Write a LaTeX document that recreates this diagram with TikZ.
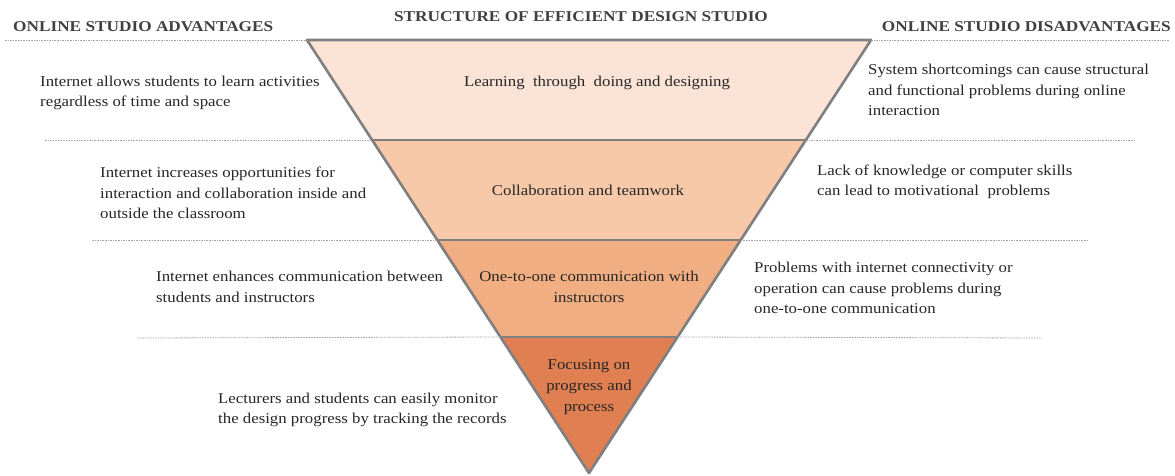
\documentclass[tikz,border=0pt]{standalone}
\usepackage{fontspec}
\setmainfont{Liberation Serif}
\newfontfamily\bodyserif[FakeStretch=1.12]{Liberation Serif}
\newfontfamily\headserif[FakeStretch=1.15]{Liberation Serif}
\usetikzlibrary{calc}
\definecolor{bandA}{HTML}{FBE4D6}
\definecolor{bandB}{HTML}{F7C9A8}
\definecolor{bandC}{HTML}{F1AE82}
\definecolor{bandD}{HTML}{E08052}
\definecolor{edgegray}{HTML}{7F7F7F}
\definecolor{rulegray}{HTML}{A6A6A6}
\definecolor{headgray}{HTML}{404040}
\definecolor{bodyink}{HTML}{262626}
\begin{document}
\begin{tikzpicture}[x=1pt,y=-1pt,
  head/.style={font=\headserif\fontsize{15}{17}\selectfont\bfseries, text=headgray, inner sep=0pt},
  body/.style={font=\bodyserif\fontsize{15}{20.5}\selectfont, text=bodyink, align=left, inner sep=0pt, anchor=west},
  mid/.style={font=\bodyserif\fontsize{15}{21}\selectfont, text=bodyink, align=center, inner sep=0pt},
  sep/.style={draw=rulegray, line width=0.8pt, dash pattern=on 1.6pt off 1pt},
  edge/.style={draw=edgegray, line width=2.6pt, line join=round},
  bandline/.style={draw=edgegray, line width=1.6pt}]
\useasboundingbox (0,0) rectangle (1175,476);

% inverted triangle and its band boundaries
\coordinate (TL) at (307,40);
\coordinate (TR) at (871,40);
\coordinate (AP) at (589,473);
\coordinate (L1) at (372.1,140);  \coordinate (R1) at (805.9,140);
\coordinate (L2) at (437.3,240);  \coordinate (R2) at (740.7,240);
\coordinate (L3) at (500.4,337);  \coordinate (R3) at (677.6,337);

\fill[bandA] (TL) -- (TR) -- (R1) -- (L1) -- cycle;
\fill[bandB] (L1) -- (R1) -- (R2) -- (L2) -- cycle;
\fill[bandC] (L2) -- (R2) -- (R3) -- (L3) -- cycle;
\fill[bandD] (L3) -- (R3) -- (AP) -- cycle;
\draw[bandline] (L1) -- (R1);
\draw[bandline] (L2) -- (R2);
\draw[bandline] (L3) -- (R3);
\draw[edge] (TL) -- (TR) -- (AP) -- cycle;

% dotted row separators
\coordinate (s0a) at (5,40);    \coordinate (s0b) at (1170,40);
\coordinate (s1a) at (45,140);  \coordinate (s1b) at (1134,140);
\coordinate (s2a) at (92,240);  \coordinate (s2b) at (1087,240);
\coordinate (s3a) at (137,338); \coordinate (s3b) at (1042,338);
\draw[sep] (s0a) -- (TL);  \draw[sep] (TR) -- (s0b);
\draw[sep] (s1a) -- (L1);  \draw[sep] (R1) -- (s1b);
\draw[sep] (s2a) -- (L2);  \draw[sep] (R2) -- (s2b);
\draw[sep] (s3a) -- (L3);  \draw[sep] (R3) -- (s3b);

% column headings
\node[head, anchor=west] (hadv) at (13,27) {ONLINE STUDIO ADVANTAGES};
\node[head] (hmid) at (581,17) {STRUCTURE OF EFFICIENT DESIGN STUDIO};
\node[head, anchor=east] (hdis) at (1171,27) {ONLINE STUDIO DISADVANTAGES};

% level 1
\node[body] (a1) at (40,93) {Internet allows students to learn activities\\regardless of time and space};
\node[mid] (c1) at (597,83) {Learning\ \ through\ \ doing\ and\ designing};
\node[body] (d1) at (868,90) {System shortcomings can cause structural\\and functional problems during online\\interaction};

% level 2
\node[body] (a2) at (100,193) {Internet increases opportunities for\\interaction and collaboration inside and\\outside the classroom};
\node[mid] (c2) at (588,190) {Collaboration and teamwork};
\node[body] (d2) at (817,182) {Lack of knowledge\ or computer skills\\can lead to motivational\ \ problems};

% level 3
\node[body] (a3) at (156,287) {Internet enhances communication between\\students and instructors};
\node[mid] (c3) at (589,287) {One-to-one communication with\\instructors};
\node[body] (d3) at (754,288) {Problems with internet\ connectivity\ or\\operation can cause problems during\\one-to-one communication};

% level 4
\node[body] (a4) at (218,410) {Lecturers and students can easily\ monitor\\the design progress by tracking\ the records};
\node[mid] (c4) at (589,387) {Focusing on\\progress and\\process};
\end{tikzpicture}
\end{document}
